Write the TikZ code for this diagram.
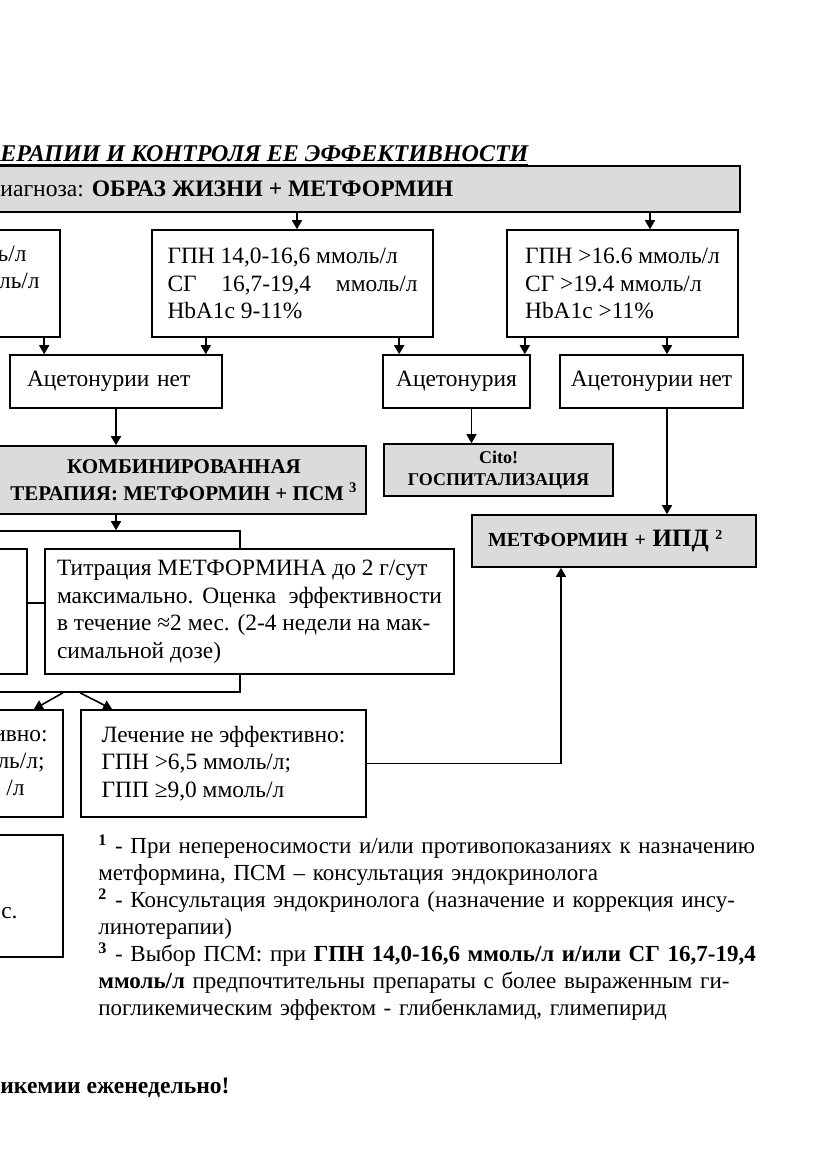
\documentclass[tikz,border=0pt]{standalone}
\usepackage{fontspec}
\setmainfont{Liberation Serif}
\usetikzlibrary{arrows.meta, calc}

\begin{document}
\begin{tikzpicture}[
    x=0.5pt, y=-0.5pt,
    box/.style={draw, rectangle, line width=0.8pt, inner sep=0pt, font=\fontsize{11.7}{13.75}\selectfont},
    gbox/.style={box, fill=black!14},
    lbox/.style={box, align=left},
    frag/.style={inner sep=0pt, font=\fontsize{11.7}{13.75}\selectfont},
    arrow/.style={-{Triangle[length=4.5pt, width=5pt]}, line width=0.8pt},
    link/.style={line width=0.8pt}
]
\useasboundingbox (0,0) rectangle (831,1174);
\clip (0,0) rectangle (831,1174);

% heading
\node[frag, anchor=base west, font=\fontsize{12}{15}\bfseries\itshape] (title) at (0,161) {\underline{ЕРАПИИ И КОНТРОЛЯ ЕЕ ЭФФЕКТИВНОСТИ}};

% start of treatment
\node[gbox, minimum width=390pt, minimum height=23pt] (start) at (350,189) {};
\node[frag, anchor=base west, font=\fontsize{11.8}{14}\selectfont] (starttxt) at (0,196) {иагноза: \textbf{ОБРАЗ ЖИЗНИ + МЕТФОРМИН}};

% glycaemia levels
\node[box, minimum width=50pt, minimum height=53.5pt] (glA) at (10,283.5) {};
\node[frag, anchor=base east] (glAa) at (27,261) {ль/л};
\node[frag, anchor=base east] (glAb) at (40,288) {оль/л};
\node[lbox, minimum width=140.5pt, minimum height=53.5pt] (glB) at (292.5,283.5) {ГПН 14,0-16,6 ммоль/л\\ \makebox[125pt][s]{СГ 16,7-19,4 ммоль/л}\\ HbA1c 9-11\%};
\node[lbox, minimum width=115.5pt, minimum height=53.5pt] (glC) at (622.5,283.5) {ГПН >16.6 ммоль/л\\ СГ >19.4 ммоль/л\\ HbA1c >11\%};

\draw[arrow] ([xshift=2.25pt]glB.north |- start.south) -- ([xshift=2.25pt]glB.north);
\draw[arrow] ([xshift=13.75pt]glC.north |- start.south) -- ([xshift=13.75pt]glC.north);

% acetonuria
\node[lbox, minimum width=106pt, minimum height=26.5pt, text width=89pt] (ketD) at (116,381.5) {Ацетонурии нет};
\node[box, minimum width=73.5pt, minimum height=26.5pt] (ketE) at (456.5,381.5) {Ацетонурия};
\node[box, minimum width=91.5pt, minimum height=26.5pt] (ketF) at (651.5,381.5) {Ацетонурии нет};

\draw[arrow] ([xshift=17.5pt]ketD.north west |- glA.south) -- ([xshift=17.5pt]ketD.north west);
\draw[arrow] ([xshift=-8.5pt]ketD.north east |- glB.south) -- ([xshift=-8.5pt]ketD.north east);
\draw[arrow] ([xshift=8.5pt]ketE.north west |- glB.south) -- ([xshift=8.5pt]ketE.north west);
\draw[arrow] ([xshift=-3pt]ketE.north east |- glC.south) -- ([xshift=-3pt]ketE.north east);
\draw[arrow] ([xshift=7.75pt]ketF.north |- glC.south) -- ([xshift=7.75pt]ketF.north);

% therapy
\node[gbox, minimum width=203pt, minimum height=34pt] (combo) at (163,480) {};
\node[frag, align=center, font=\fontsize{10.5}{13.5}\bfseries] (combotxt) at (184,480) {КОМБИНИРОВАННАЯ\\ ТЕРАПИЯ: МЕТФОРМИН + ПСМ \textsuperscript{3}};
\node[gbox, minimum width=114.5pt, minimum height=26pt, align=center, font=\fontsize{9}{11}\bfseries] (cito) at (498.5,470) {Cito!\\ ГОСПИТАЛИЗАЦИЯ};
\node[gbox, minimum width=142pt, minimum height=26pt, text width=126pt, align=left, font=\fontsize{10}{12}\bfseries] (insul) at (614,541) {МЕТФОРМИН + {\fontsize{12.5}{14}\selectfont ИПД} \textsuperscript{2}};

\draw[arrow] (ketD.south) -- (ketD.south |- combo.north);
\draw[arrow] ([xshift=7.5pt]ketE.south) -- ([xshift=7.5pt]ketE.south |- cito.north);
\draw[arrow] ([xshift=7.75pt]ketF.south) -- ([xshift=7.75pt]ketF.south |- insul.north);

% titration group
\node[box, minimum width=140pt, minimum height=80.5pt] (grp) at (100,611.5) {};
\node[box, minimum width=33.5pt, minimum height=62.5pt] (pre) at (-6.5,611.5) {};
\node[lbox, fill=white, minimum width=204.5pt, minimum height=62.5pt] (titr) at (249.5,611.5) {Титрация МЕТФОРМИНА до 2 г/сут\\ \makebox[192.5pt][s]{максимально. Оценка \ эффективности}\\ в течение ≈2 мес. (2-4 недели на мак-\\ симальной дозе)};

\draw[arrow] (ketD.south |- combo.south) -- (ketD.south |- grp.north);
\draw[link] ([yshift=4.25pt]pre.east) -- ([yshift=4.25pt]titr.west);

% outcome
\node[box, minimum width=51.5pt, minimum height=53.5pt] (resG) at (11.5,763.5) {};
\node[frag, anchor=base east] (resGa) at (48,741) {ивно:};
\node[frag, anchor=base east] (resGb) at (45,768) {ль/л;};
\node[frag, anchor=base east] (resGc) at (25,795) {/л};
\node[lbox, minimum width=142.5pt, minimum height=53.5pt] (resH) at (223.5,763.5) {Лечение не эффективно:\\ ГПН >6,5 ммоль/л;\\ ГПП ≥9,0 ммоль/л};

\draw[arrow] ([xshift=-18.5pt]grp.south) -- ([xshift=-15pt]resG.north east);
\draw[arrow] ([xshift=-10pt]grp.south) -- ([xshift=16pt]resH.north west);
\draw[arrow] (resH.east) -| ([xshift=-26.5pt]insul.south);

% notes
\node[box, minimum width=51.5pt, minimum height=61pt] (noteI) at (11.5,896) {};
\node[frag, anchor=base east] (noteIa) at (18,918) {ес.};

\node[frag, anchor=north west, text width=332pt, align=left, font=\fontsize{11.5}{13.5}\selectfont] (notes) at (98,834) {\makebox[332pt][s]{\textsuperscript{\textbf{1}} - При непереносимости и/или противопоказаниях к назначению}\\
метформина, ПСМ – консультация эндокринолога\\
\makebox[332pt][s]{\textsuperscript{\textbf{2}} - Консультация эндокринолога (назначение и коррекция инсу-}\\
линотерапии)\\
\makebox[332pt][s]{\textsuperscript{\textbf{3}} - Выбор ПСМ: при \textbf{ГПН 14,0-16,6 ммоль/л и/или СГ 16,7-19,4}}\\
\makebox[332pt][s]{\textbf{ммоль/л} предпочтительны препараты с более выраженным ги-}\\
погликемическим эффектом - глибенкламид, глимепирид};

\node[frag, anchor=base west, font=\fontsize{11.8}{14}\bfseries] (warn) at (0,1093) {икемии еженедельно!};

\end{tikzpicture}
\end{document}
